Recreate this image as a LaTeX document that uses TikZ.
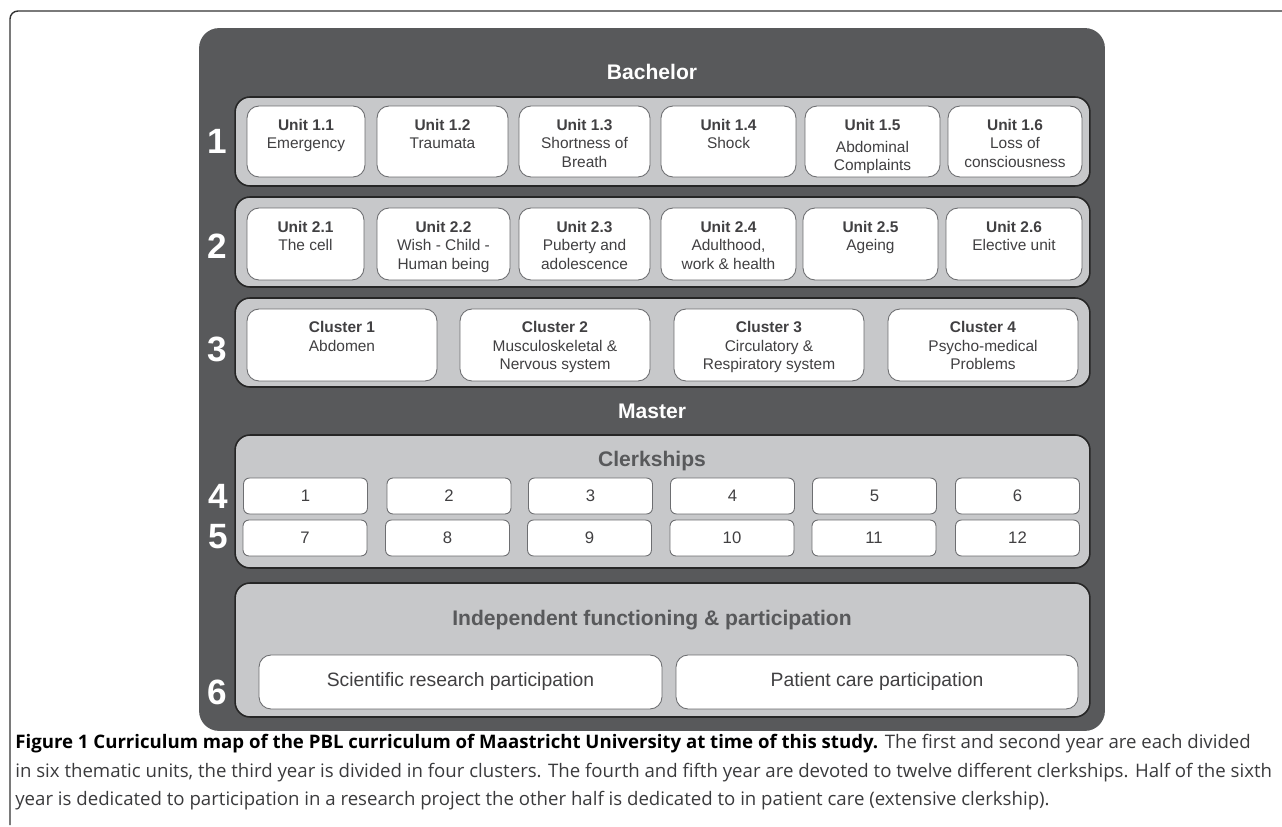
\documentclass[tikz,border=0pt]{standalone}
\usepackage{fontspec}
\setmainfont{Liberation Sans}
\newfontfamily\capfont{Open Sans}
\usepackage{xcolor}

\definecolor{panelgray}{HTML}{58595B}
\definecolor{bandgray}{HTML}{C7C8CA}
\definecolor{boxedge}{HTML}{6D6E71}
\definecolor{boxtext}{HTML}{414042}
\definecolor{captext}{HTML}{3A3A3C}

\tikzset{
    panel/.style={draw=none, fill=panelgray, rounded corners=0.4cm, inner sep=0pt},
    band/.style={draw=black!85, line width=0.9pt, fill=bandgray, rounded corners=0.3cm, minimum width=17.1cm, inner sep=0pt},
    unitbox/.style={draw=boxedge, line width=0.5pt, fill=white, rounded corners=0.24cm, inner sep=0pt},
    unittext/.style={inner sep=0pt, align=center, text=boxtext, font=\fontsize{8.8}{10.5}\selectfont},
    clerkbox/.style={draw=boxedge, line width=0.5pt, fill=white, rounded corners=0.12cm, minimum width=2.48cm, minimum height=0.72cm, inner sep=0pt, text=boxtext, font=\fontsize{9.5}{11}\selectfont},
    yearnum/.style={text=white, font=\fontsize{20}{20}\selectfont\bfseries, inner sep=0pt},
    phase/.style={text=white, font=\fontsize{12}{14}\selectfont\bfseries, inner sep=0pt},
    bandtitle/.style={text=panelgray, font=\fontsize{12}{14}\selectfont\bfseries, inner sep=0pt},
    capline/.style={anchor=west, inner sep=0pt, text=captext, font=\capfont\fontsize{10.6}{12}\selectfont}
}

\begin{document}
\begin{tikzpicture}[x=0.02cm, y=-0.02cm]
    \useasboundingbox (0,0) rectangle (1282,827);

    % Frame round the figure
    \draw[line width=0.8pt, black!80, rounded corners=0.16cm] (1282,11) -- (10,11) -- (10,825);

    % Dark panel
    \node[panel, minimum width=18.12cm, minimum height=14.06cm] (panel) at (652,379.5) {};
    \node[phase] (bachelor) at (652,72) {Bachelor};
    \node[phase] (master) at (652,411) {Master};

    % Year 1
    \node[band, minimum height=1.78cm] (band1) at (662.5,141.5) {};
    \node[yearnum] (y1) at (217,141) {1};
    \node[unitbox, minimum width=2.36cm, minimum height=1.42cm] (u11) at (306,141.5) {};
    \node[unitbox, minimum width=2.62cm, minimum height=1.42cm] (u12) at (442.5,141.5) {};
    \node[unitbox, minimum width=2.62cm, minimum height=1.42cm] (u13) at (584.5,141.5) {};
    \node[unitbox, minimum width=2.70cm, minimum height=1.42cm] (u14) at (728.5,141.5) {};
    \node[unitbox, minimum width=2.70cm, minimum height=1.42cm] (u15) at (872.5,141.5) {};
    \node[unitbox, minimum width=2.68cm, minimum height=1.42cm] (u16) at (1015,141.5) {};
    \node[unittext, below=7.6pt] (t11) at (u11.north) {\textbf{Unit 1.1}\\Emergency};
    \node[unittext, below=7.6pt] (t12) at (u12.north) {\textbf{Unit 1.2}\\Traumata};
    \node[unittext, below=7.6pt] (t13) at (u13.north) {\textbf{Unit 1.3}\\Shortness of\\Breath};
    \node[unittext, below=7.6pt] (t14) at (u14.north) {\textbf{Unit 1.4}\\Shock};
    \node[unittext, below=7.6pt] (t15) at (u15.north) {\textbf{Unit 1.5}\\[2pt]Abdominal\\Complaints};
    \node[unittext, below=7.6pt] (t16) at (u16.north) {\textbf{Unit 1.6}\\Loss of\\consciousness};

    % Year 2
    \node[band, minimum height=1.80cm] (band2) at (662.5,242) {};
    \node[yearnum] (y2) at (217,246) {2};
    \node[unitbox, minimum width=2.34cm, minimum height=1.44cm] (u21) at (305.5,244) {};
    \node[unitbox, minimum width=2.66cm, minimum height=1.44cm] (u22) at (443.5,244) {};
    \node[unitbox, minimum width=2.62cm, minimum height=1.44cm] (u23) at (584.5,244) {};
    \node[unitbox, minimum width=2.70cm, minimum height=1.44cm] (u24) at (728.5,244) {};
    \node[unitbox, minimum width=2.70cm, minimum height=1.44cm] (u25) at (870.5,244) {};
    \node[unitbox, minimum width=2.72cm, minimum height=1.44cm] (u26) at (1014,244) {};
    \node[unittext, below=7.6pt] (t21) at (u21.north) {\textbf{Unit 2.1}\\The cell};
    \node[unittext, below=7.6pt] (t22) at (u22.north) {\textbf{Unit 2.2}\\Wish - Child -\\Human being};
    \node[unittext, below=7.6pt] (t23) at (u23.north) {\textbf{Unit 2.3}\\Puberty and\\adolescence};
    \node[unittext, below=7.6pt] (t24) at (u24.north) {\textbf{Unit 2.4}\\Adulthood,\\work \& health};
    \node[unittext, below=7.6pt] (t25) at (u25.north) {\textbf{Unit 2.5}\\Ageing};
    \node[unittext, below=7.6pt] (t26) at (u26.north) {\textbf{Unit 2.6}\\Elective unit};

    % Year 3
    \node[band, minimum height=1.78cm] (band3) at (662.5,342.5) {};
    \node[yearnum] (y3) at (217,349) {3};
    \node[unitbox, minimum width=3.8cm, minimum height=1.44cm] (c1) at (342,345) {};
    \node[unitbox, minimum width=3.8cm, minimum height=1.44cm] (c2) at (555,345) {};
    \node[unitbox, minimum width=3.8cm, minimum height=1.44cm] (c3) at (769,345) {};
    \node[unitbox, minimum width=3.8cm, minimum height=1.44cm] (c4) at (983,345) {};
    \node[unittext, below=7.3pt] (tc1) at (c1.north) {\textbf{Cluster 1}\\Abdomen};
    \node[unittext, below=7.3pt] (tc2) at (c2.north) {\textbf{Cluster 2}\\Musculoskeletal \&\\Nervous system};
    \node[unittext, below=7.3pt] (tc3) at (c3.north) {\textbf{Cluster 3}\\Circulatory \&\\Respiratory system};
    \node[unittext, below=7.3pt] (tc4) at (c4.north) {\textbf{Cluster 4}\\Psycho-medical\\Problems};

    % Years 4 and 5
    \node[band, minimum height=2.66cm] (band45) at (662.5,501.5) {};
    \node[bandtitle] (clerk) at (652,461) {Clerkships};
    \node[yearnum] (y4) at (218,496) {4};
    \node[yearnum] (y5) at (218,537) {5};
    \node[clerkbox] (k1) at (305.5,496) {1};
    \node[clerkbox] (k2) at (449,496) {2};
    \node[clerkbox] (k3) at (590.5,496) {3};
    \node[clerkbox] (k4) at (732.5,496) {4};
    \node[clerkbox] (k5) at (874.5,496) {5};
    \node[clerkbox] (k6) at (1017.5,496) {6};
    \node[clerkbox] (k7) at (305,538) {7};
    \node[clerkbox] (k8) at (447.5,538) {8};
    \node[clerkbox] (k9) at (589.5,538) {9};
    \node[clerkbox] (k10) at (732,538) {10};
    \node[clerkbox] (k11) at (874,538) {11};
    \node[clerkbox] (k12) at (1017.5,538) {12};

    % Year 6
    \node[band, minimum height=2.68cm] (band6) at (662.5,650) {};
    \node[bandtitle] (indep) at (652,620) {Independent functioning \& participation};
    \node[yearnum] (y6) at (217,692) {6};
    \node[unitbox, minimum width=8.06cm, minimum height=1.08cm, text=boxtext, font=\fontsize{11}{13}\selectfont] (sci) at (460.5,682) {Scientific research participation};
    \node[unitbox, minimum width=8.04cm, minimum height=1.08cm, text=boxtext, font=\fontsize{11}{13}\selectfont] (pat) at (877,682) {Patient care participation};

    % Caption
    \node[capline] (cap1) at (15,744) {\textbf{\color{black}Figure 1 Curriculum map of the PBL curriculum of Maastricht University at time of this study.} The first and second year are each divided};
    \node[capline] (cap2) at (15,773) {in six thematic units, the third year is divided in four clusters. The fourth and fifth year are devoted to twelve different clerkships. Half of the sixth};
    \node[capline] (cap3) at (15,801) {year is dedicated to participation in a research project the other half is dedicated to in patient care (extensive clerkship).};
\end{tikzpicture}
\end{document}
